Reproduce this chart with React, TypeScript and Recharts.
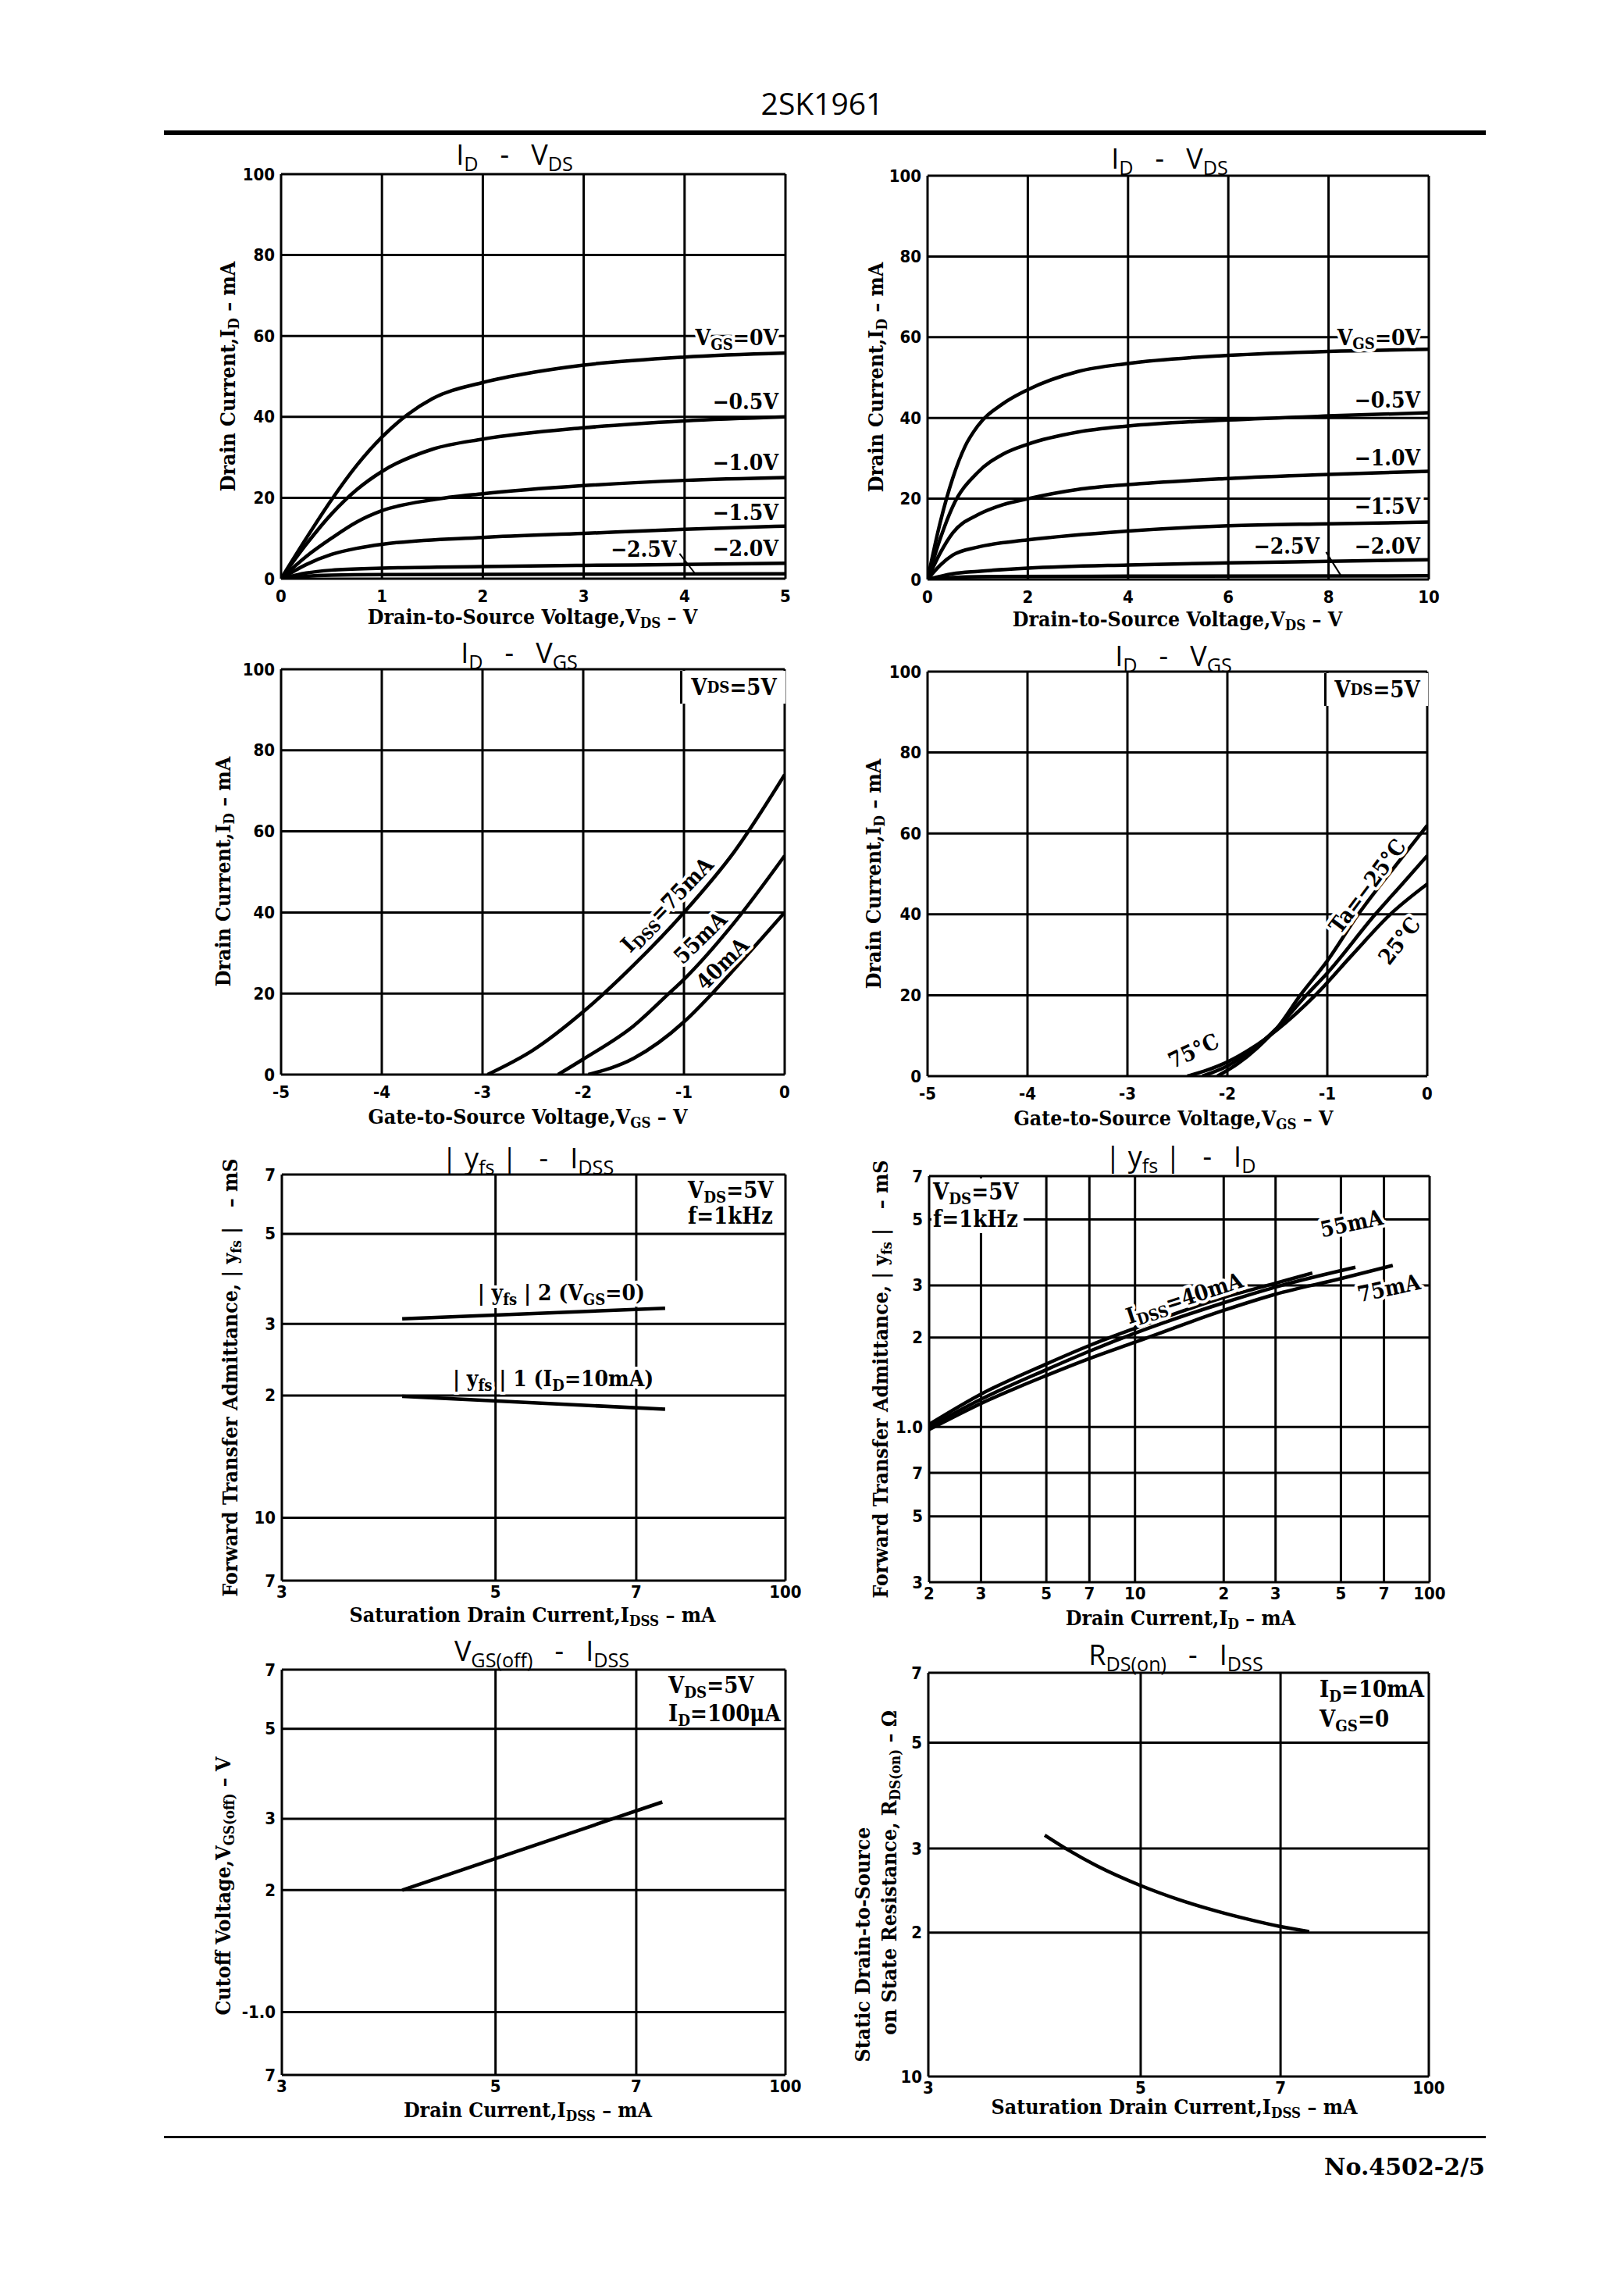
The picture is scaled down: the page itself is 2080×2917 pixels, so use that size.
import React from "react";
import {
  LineChart,
  Line,
  XAxis,
  YAxis,
  CartesianGrid,
  ReferenceDot,
  ReferenceLine,
} from "recharts";

type Pair = [number, number];

// I_D - V_DS, 0..5 V  (V_DS, I_D mA)
const vds5Vgs0: Pair[] = [[0, 0], [0.25, 10], [0.5, 19.5], [0.75, 28], [1, 35], [1.25, 40.5], [1.5, 44.5], [2, 48.5], [2.5, 51], [3, 52.8], [4, 54.8], [5, 55.8]];
const vds5Vgs05: Pair[] = [[0, 0], [0.25, 8.5], [0.5, 16], [0.75, 22], [1, 26.5], [1.5, 32], [2, 34.5], [3, 37.3], [4, 39], [5, 40]];
const vds5Vgs10: Pair[] = [[0, 0], [0.25, 5.5], [0.5, 10], [0.75, 14], [1, 16.8], [1.5, 19.5], [2, 21], [3, 23], [4, 24.3], [5, 25]];
const vds5Vgs15: Pair[] = [[0, 0], [0.25, 3.5], [0.5, 6], [0.75, 7.5], [1, 8.5], [2, 10.2], [3, 11.2], [4, 12.2], [5, 13]];
const vds5Vgs20: Pair[] = [[0, 0], [0.25, 1.4], [0.5, 2.1], [1, 2.6], [2, 3], [3, 3.3], [4, 3.5], [5, 3.8]];
const vds5Vgs25: Pair[] = [[0, 0], [0.25, 0.6], [0.5, 0.85], [1, 1], [3, 1.1], [5, 1.2]];

// I_D - V_DS, 0..10 V
const vds10Vgs0: Pair[] = [[0, 0], [0.25, 14], [0.5, 25], [0.75, 33], [1, 38], [1.5, 43.5], [2, 47], [3, 51.5], [4, 53.5], [6, 55.5], [8, 56.5], [10, 57]];
const vds10Vgs05: Pair[] = [[0, 0], [0.25, 10], [0.5, 18], [1, 26.5], [1.5, 31], [2, 33.5], [3, 36.5], [4, 38], [6, 39.5], [8, 40.5], [10, 41.3]];
const vds10Vgs10: Pair[] = [[0, 0], [0.25, 6.5], [0.5, 11.5], [1, 16], [1.5, 18.5], [2, 20], [3, 22.3], [4, 23.5], [6, 25], [8, 26], [10, 26.8]];
const vds10Vgs15: Pair[] = [[0, 0], [0.25, 3.5], [0.5, 6], [1, 8], [2, 9.8], [4, 12], [6, 13.3], [8, 13.8], [10, 14.2]];
const vds10Vgs20: Pair[] = [[0, 0], [0.5, 1.4], [1, 2], [2, 2.8], [4, 3.6], [6, 4.1], [8, 4.5], [10, 4.9]];
const vds10Vgs25: Pair[] = [[0, 0], [0.5, 0.5], [1, 0.7], [4, 0.8], [10, 0.9]];

// I_D - V_GS by I_DSS
const vgsIdss75: Pair[] = [[-2.95, 0], [-2.5, 6], [-2, 15.5], [-1.5, 27], [-1, 40], [-0.5, 55], [0, 74]];
const vgsIdss55: Pair[] = [[-2.25, 0], [-2, 3.8], [-1.5, 12], [-1.15, 20], [-1, 23.5], [-0.5, 37.5], [0, 54]];
const vgsIdss40: Pair[] = [[-1.95, 0], [-1.5, 4], [-1, 13], [-0.72, 20], [-0.5, 26], [0, 40]];

// I_D - V_GS by Ta
const vgsTaM25: Pair[] = [[-2.1, 0], [-1.9, 3], [-1.7, 7], [-1.5, 12], [-1.27, 20], [-1, 28.5], [-0.69, 40], [-0.35, 51], [0, 62]];
const vgsTa25: Pair[] = [[-2.25, 0], [-2, 2.5], [-1.75, 6.5], [-1.5, 12], [-1.21, 20], [-1, 25.5], [-0.52, 40], [-0.25, 47.5], [0, 54.5]];
const vgsTa75: Pair[] = [[-2.4, 0], [-2.2, 1.5], [-2, 3.5], [-1.75, 7], [-1.5, 11.5], [-1.12, 20], [-0.75, 30], [-0.37, 40], [0, 47.5]];

// |yfs| - IDSS
const yfs2: Pair[] = [[40, 30.9], [75, 32.8]];
const yfs1: Pair[] = [[40, 19.9], [75, 18.5]];

// |yfs| - ID
const yfsId40: Pair[] = [[2, 1.02], [3, 1.29], [5, 1.63], [7, 1.88], [10, 2.15], [20, 2.73], [30, 3.05], [40, 3.3]];
const yfsId55: Pair[] = [[2, 1.0], [3, 1.24], [5, 1.56], [7, 1.8], [10, 2.07], [20, 2.62], [30, 2.96], [56, 3.45]];
const yfsId75: Pair[] = [[2, 0.98], [3, 1.2], [5, 1.49], [7, 1.7], [10, 1.93], [20, 2.47], [30, 2.8], [50, 3.16], [75, 3.5]];

// VGS(off) - IDSS
const vgsOff: Pair[] = [[40, 2.0], [74.5, 3.3]];

// RDS(on) - IDSS
const rdsOn: Pair[] = [[39.7, 32], [42, 29.8], [45, 27.6], [50, 25.1], [55, 23.4], [60, 22.2], [65, 21.3], [70, 20.6], [75, 20.1]];

// ticks
const vds5Ticks = [0, 1, 2, 3, 4, 5];
const vds10Ticks = [0, 2, 4, 6, 8, 10];
const vgsTicks = [-5, -4, -3, -2, -1, 0];
const idTicks = [0, 20, 40, 60, 80, 100];
const idssTicks = [30, 50, 70, 100];
const idssLabels: Record<number, string> = { 30: "3", 50: "5", 70: "7", 100: "100" };
const yfsTicks = [7, 10, 20, 30, 50, 70];
const yfsLabels: Record<number, string> = { 7: "7", 10: "10", 20: "2", 30: "3", 50: "5", 70: "7" };
const idLogTicks = [2, 3, 5, 7, 10, 20, 30, 50, 70, 100];
const idLogLabels: Record<number, string> = { 2: "2", 3: "3", 5: "5", 7: "7", 10: "10", 20: "2", 30: "3", 50: "5", 70: "7", 100: "100" };
const yfsIdTicks = [0.3, 0.5, 0.7, 1, 2, 3, 5, 7];
const yfsIdLabels: Record<number, string> = { 0.3: "3", 0.5: "5", 0.7: "7", 1: "1.0", 2: "2", 3: "3", 5: "5", 7: "7" };
const offTicks = [0.7, 1, 2, 3, 5, 7];
const offLabels: Record<number, string> = { 0.7: "7", 1: "-1.0", 2: "2", 3: "3", 5: "5", 7: "7" };
const rdsTicks = [10, 20, 30, 50, 70];
const rdsLabels: Record<number, string> = { 10: "10", 20: "2", 30: "3", 50: "5", 70: "7" };

const SERIF = "'DejaVu Serif Condensed', 'DejaVu Serif', 'Liberation Serif', serif";
const SANS = "'Open Sans', 'Noto Sans', sans-serif";
const TICK = "'DejaVu Sans Condensed', 'Liberation Sans Narrow', 'Liberation Sans', sans-serif";

const ML = 90;
const MR = 40;
const MT = 30;
const MB = 60;

type Box = { left: number; top: number; w: number; h: number };
type Axis = {
  domain: [number, number];
  ticks: number[];
  log?: boolean;
  labels?: Record<number, string>;
  dy?: number;
};

const pts = (a: Pair[]) => a.map(([x, y]) => ({ x, y }));

function parse(s: string) {
  const out: { t: string; sub: boolean }[] = [];
  const re = /_\{([^}]*)\}/g;
  let last = 0;
  let m: RegExpExecArray | null;
  while ((m = re.exec(s))) {
    if (m.index > last) out.push({ t: s.slice(last, m.index), sub: false });
    out.push({ t: m[1], sub: true });
    last = re.lastIndex;
  }
  if (last < s.length) out.push({ t: s.slice(last), sub: false });
  return out;
}

function Rich({ s }: { s: string }) {
  return (
    <>
      {parse(s).map((p, i) =>
        p.sub ? (
          <sub key={i} style={{ fontSize: "0.7em", verticalAlign: "-0.3em", lineHeight: 0 }}>
            {p.t}
          </sub>
        ) : (
          <span key={i}>{p.t}</span>
        )
      )}
    </>
  );
}

function At({
  x,
  y,
  s,
  rotate,
  style,
}: {
  x: number;
  y: number;
  s: string;
  rotate?: number;
  style?: React.CSSProperties;
}) {
  return (
    <div
      style={{
        position: "absolute",
        left: x,
        top: y,
        transform: `translate(-50%, -50%)${rotate ? ` rotate(${rotate}deg)` : ""}`,
        whiteSpace: "pre",
        lineHeight: 1,
        color: "#000",
        ...style,
      }}
    >
      <Rich s={s} />
    </div>
  );
}

type NoteOpt = { size?: number; anchor?: "start" | "middle" | "end"; rotate?: number; halo?: boolean };

function SvgRich({ x, y, s, size = 28, anchor = "middle", rotate = 0, halo = true }: NoteOpt & { x: number; y: number; s: string }) {
  const d = size * 0.3;
  let down = false;
  return (
    <text
      x={x}
      y={y}
      textAnchor={anchor}
      dominantBaseline="central"
      transform={rotate ? `rotate(${rotate} ${x} ${y})` : undefined}
      fontFamily={SERIF}
      fontWeight="bold"
      fontSize={size}
      fill="#000"
      stroke={halo ? "#fff" : "none"}
      strokeWidth={halo ? 8 : 0}
      strokeLinejoin="round"
      paintOrder="stroke"
      style={{ whiteSpace: "pre" }}
    >
      {parse(s).map((p, i) => {
        let dy = 0;
        if (p.sub && !down) {
          dy = d;
          down = true;
        } else if (!p.sub && down) {
          dy = -d;
          down = false;
        }
        return (
          <tspan key={i} dy={dy} fontSize={p.sub ? size * 0.72 : size}>
            {p.t}
          </tspan>
        );
      })}
    </text>
  );
}

const note = (key: string, x: number, y: number, s: string, o: NoteOpt = {}) => (
  <ReferenceDot
    key={key}
    x={x}
    y={y}
    r={0}
    fill="none"
    stroke="none"
    label={{
      content: (lp: any) => {
        const vb = lp.viewBox ?? lp;
        return <SvgRich x={vb.x} y={vb.y} s={s} {...o} />;
      },
    }}
  />
);

const curve = (key: string, d: Pair[], type: "monotone" | "linear" = "monotone") => (
  <Line
    key={key}
    data={pts(d)}
    dataKey="y"
    type={type}
    stroke="#000"
    strokeWidth={4.5}
    dot={false}
    activeDot={false}
    isAnimationActive={false}
  />
);

const arrow = (key: string, a: Pair, b: Pair) => (
  <ReferenceLine
    key={key}
    segment={[{ x: a[0], y: a[1] }, { x: b[0], y: b[1] }]}
    stroke="#000"
    strokeWidth={2}
  />
);

function fmt(v: number, labels?: Record<number, string>) {
  if (labels && labels[v] !== undefined) return labels[v];
  return String(v);
}

type PanelProps = {
  box: Box;
  x: Axis;
  y: Axis;
  children: React.ReactNode;
};

function Panel({ box, x, y, children }: PanelProps) {
  return (
    <div style={{ position: "absolute", left: box.left - ML, top: box.top - MT }}>
      <LineChart
        width={box.w + ML + MR}
        height={box.h + MT + MB}
        margin={{ top: MT, right: MR, bottom: 0, left: 0 }}
      >
        <CartesianGrid stroke="#000" strokeWidth={3} />
        <XAxis
          dataKey="x"
          type="number"
          scale={x.log ? "log" : "linear"}
          domain={x.domain}
          ticks={x.ticks}
          interval={0}
          allowDataOverflow
          height={MB}
          axisLine={false}
          tickLine={false}
          tickSize={0}
          tickMargin={0}
          tick={(t: any) => (
            <text
              x={t.x}
              y={t.y + (x.dy ?? 22)}
              textAnchor="middle"
              dominantBaseline="central"
              fontFamily={TICK}
              fontWeight="bold"
              fontSize={22}
              fill="#000"
            >
              {fmt(t.payload.value, x.labels)}
            </text>
          )}
        />
        <YAxis
          dataKey="y"
          type="number"
          scale={y.log ? "log" : "linear"}
          domain={y.domain}
          ticks={y.ticks}
          interval={0}
          allowDataOverflow
          width={ML}
          axisLine={false}
          tickLine={false}
          tickSize={0}
          tickMargin={0}
          tick={(t: any) => (
            <text
              x={t.x - 8}
              y={t.y}
              textAnchor="end"
              dominantBaseline="central"
              fontFamily={TICK}
              fontWeight="bold"
              fontSize={22}
              fill="#000"
            >
              {fmt(t.payload.value, y.labels)}
            </text>
          )}
        />
        {children}
      </LineChart>
    </div>
  );
}

const B1: Box = { left: 360, top: 223, w: 646, h: 518 };
const B2: Box = { left: 1188, top: 225, w: 642, h: 517 };
const B3: Box = { left: 360, top: 857, w: 645, h: 519 };
const B4: Box = { left: 1188, top: 860, w: 640, h: 518 };
const B5: Box = { left: 361, top: 1504, w: 645, h: 520 };
const B6: Box = { left: 1190, top: 1506, w: 641, h: 520 };
const B7: Box = { left: 361, top: 2138, w: 645, h: 519 };
const B8: Box = { left: 1189, top: 2142, w: 641, h: 517 };

const titleStyle: React.CSSProperties = { fontFamily: SANS, fontSize: 36 };
const labelStyle: React.CSSProperties = { fontFamily: SERIF, fontSize: 26.5, fontWeight: "bold" };
const condStyle: React.CSSProperties = { fontFamily: SERIF, fontSize: 29, fontWeight: "bold" };

function CondBox({ left, top, w, h, s }: { left: number; top: number; w: number; h: number; s: string }) {
  return (
    <div
      style={{
        position: "absolute",
        left,
        top,
        width: w,
        height: h,
        borderLeft: "3px solid #000",
        background: "#fff",
        display: "flex",
        alignItems: "center",
        justifyContent: "center",
        ...condStyle,
      }}
    >
      <Rich s={s} />
    </div>
  );
}

function CondLines({ left, top, lines, gap, bg }: { left: number; top: number; lines: string[]; gap: number; bg?: boolean }) {
  return (
    <div
      style={{
        position: "absolute",
        left,
        top,
        lineHeight: `${gap}px`,
        background: bg ? "#fff" : "transparent",
        padding: bg ? "0 6px 0 2px" : 0,
        whiteSpace: "pre",
        ...condStyle,
      }}
    >
      {lines.map((l, i) => (
        <div key={i}>
          <Rich s={l} />
        </div>
      ))}
    </div>
  );
}

export default function App() {
  return (
    <div
      style={{
        position: "absolute",
        left: 0,
        top: 0,
        width: 2080,
        height: 2917,
        background: "#fff",
        overflow: "hidden",
      }}
    >
      <At x={1053} y={131} s="2SK1961" style={{ fontFamily: SANS, fontSize: 39 }} />
      <div style={{ position: "absolute", left: 210, top: 167, width: 1693, height: 6, background: "#000" }} />

      {/* I_D - V_DS (5 V) */}
      <Panel box={B1} x={{ domain: [0, 5], ticks: vds5Ticks }} y={{ domain: [0, 100], ticks: idTicks }}>
        {curve("a0", vds5Vgs0)}
        {curve("a1", vds5Vgs05)}
        {curve("a2", vds5Vgs10)}
        {curve("a3", vds5Vgs15)}
        {curve("a4", vds5Vgs20)}
        {curve("a5", vds5Vgs25)}
        {note("n0", 4.93, 59.6, "V_{GS}=0V", { anchor: "end" })}
        {note("n1", 4.93, 43.8, "−0.5V", { anchor: "end" })}
        {note("n2", 4.93, 28.8, "−1.0V", { anchor: "end" })}
        {note("n3", 4.93, 16.4, "−1.5V", { anchor: "end" })}
        {note("n4", 4.93, 7.5, "−2.0V", { anchor: "end" })}
        {note("n5", 3.92, 7.3, "−2.5V", { anchor: "end" })}
        {arrow("ar", [3.95, 6.2], [4.1, 1.4])}
      </Panel>
      <At x={659} y={198} s="I_{D}   -   V_{DS}" style={titleStyle} />
      <At x={682} y={790} s="Drain-to-Source Voltage,V_{DS} – V" style={labelStyle} />
      <At x={292} y={482} s="Drain Current,I_{D} – mA" rotate={-90} style={labelStyle} />

      {/* I_D - V_DS (10 V) */}
      <Panel box={B2} x={{ domain: [0, 10], ticks: vds10Ticks }} y={{ domain: [0, 100], ticks: idTicks }}>
        {curve("b0", vds10Vgs0)}
        {curve("b1", vds10Vgs05)}
        {curve("b2", vds10Vgs10)}
        {curve("b3", vds10Vgs15)}
        {curve("b4", vds10Vgs20)}
        {curve("b5", vds10Vgs25)}
        {note("m0", 9.83, 60, "V_{GS}=0V", { anchor: "end" })}
        {note("m1", 9.83, 44.4, "−0.5V", { anchor: "end" })}
        {note("m2", 9.83, 30.2, "−1.0V", { anchor: "end" })}
        {note("m3", 9.83, 18.2, "−1.5V", { anchor: "end" })}
        {note("m4", 9.83, 8.4, "−2.0V", { anchor: "end" })}
        {note("m5", 7.82, 8.4, "−2.5V", { anchor: "end" })}
        {arrow("br", [7.95, 6.8], [8.25, 0.9])}
      </Panel>
      <At x={1498} y={203} s="I_{D}   -   V_{DS}" style={titleStyle} />
      <At x={1508} y={793} s="Drain-to-Source Voltage,V_{DS} – V" style={labelStyle} />
      <At x={1122} y={483} s="Drain Current,I_{D} – mA" rotate={-90} style={labelStyle} />

      {/* I_D - V_GS by IDSS */}
      <Panel box={B3} x={{ domain: [-5, 0], ticks: vgsTicks }} y={{ domain: [0, 100], ticks: idTicks }}>
        {curve("c0", vgsIdss75)}
        {curve("c1", vgsIdss55)}
        {curve("c2", vgsIdss40)}
        {note("c75", -1.17, 42, "I_{DSS}=75mA", { rotate: -46 })}
        {note("c55", -0.84, 33.8, "55mA", { rotate: -44 })}
        {note("c40", -0.62, 27.4, "40mA", { rotate: -45 })}
      </Panel>
      <At x={665} y={836} s="I_{D}   -   V_{GS}" style={titleStyle} />
      <At x={676} y={1430} s="Gate-to-Source Voltage,V_{GS} – V" style={labelStyle} />
      <At x={286} y={1116} s="Drain Current,I_{D} – mA" rotate={-90} style={labelStyle} />
      <CondBox left={B3.left + B3.w - 134} top={B3.top + 2} w={132} h={42} s="V_{DS}=5V" />

      {/* I_D - V_GS by Ta */}
      <Panel box={B4} x={{ domain: [-5, 0], ticks: vgsTicks }} y={{ domain: [0, 100], ticks: idTicks }}>
        {curve("d0", vgsTaM25)}
        {curve("d1", vgsTa25)}
        {curve("d2", vgsTa75)}
        {note("dm25", -0.6, 47, "Ta=−25°C", { rotate: -53 })}
        {note("d25", -0.28, 33.5, "25°C", { rotate: -52 })}
        {note("d75", -2.34, 6.3, "75°C", { rotate: -25 })}
      </Panel>
      <At x={1503} y={840} s="I_{D}   -   V_{GS}" style={titleStyle} />
      <At x={1503} y={1432} s="Gate-to-Source Voltage,V_{GS} – V" style={labelStyle} />
      <At x={1119} y={1119} s="Drain Current,I_{D} – mA" rotate={-90} style={labelStyle} />
      <CondBox left={B4.left + B4.w - 132} top={B4.top + 2} w={130} h={42} s="V_{DS}=5V" />

      {/* |yfs| - IDSS */}
      <Panel
        box={B5}
        x={{ domain: [30, 100], ticks: idssTicks, log: true, labels: idssLabels, dy: 14 }}
        y={{ domain: [7, 70], ticks: yfsTicks, log: true, labels: yfsLabels }}
      >
        {curve("e0", yfs2, "linear")}
        {curve("e1", yfs1, "linear")}
        {note("e2", 58.5, 35.8, "| y_{fs} | 2 (V_{GS}=0)")}
        {note("e3", 57.4, 22, "| y_{fs} | 1 (I_{D}=10mA)")}
      </Panel>
      <At x={676} y={1483} s="| y_{fs} |   -   I_{DSS}" style={titleStyle} />
      <At x={682} y={2068} s="Saturation Drain Current,I_{DSS} – mA" style={labelStyle} />
      <At x={295} y={1764} s="Forward Transfer Admittance, | y_{fs} |   – mS" rotate={-90} style={labelStyle} />
      <CondLines left={B5.left + B5.w - 125} top={B5.top + 4} lines={["V_{DS}=5V", "f=1kHz"]} gap={33} />

      {/* |yfs| - ID */}
      <Panel
        box={B6}
        x={{ domain: [2, 100], ticks: idLogTicks, log: true, labels: idLogLabels, dy: 14 }}
        y={{ domain: [0.3, 7], ticks: yfsIdTicks, log: true, labels: yfsIdLabels }}
      >
        {curve("f0", yfsId40)}
        {curve("f1", yfsId55)}
        {curve("f2", yfsId75)}
        {note("f40", 14.7, 2.72, "I_{DSS}=40mA", { rotate: -18 })}
        {note("f55", 54.3, 4.86, "55mA", { rotate: -12 })}
        {note("f75", 72.7, 2.94, "75mA", { rotate: -12 })}
      </Panel>
      <At x={1512} y={1481} s="| y_{fs} |   -   I_{D}" style={titleStyle} />
      <At x={1512} y={2072} s="Drain Current,I_{D} – mA" style={labelStyle} />
      <At x={1128} y={1766} s="Forward Transfer Admittance, | y_{fs} |   – mS" rotate={-90} style={labelStyle} />
      <CondLines left={B6.left + 3} top={B6.top + 3} lines={["V_{DS}=5V", "f=1kHz"]} gap={35} bg />

      {/* VGS(off) - IDSS */}
      <Panel
        box={B7}
        x={{ domain: [30, 100], ticks: idssTicks, log: true, labels: idssLabels, dy: 14 }}
        y={{ domain: [0.7, 7], ticks: offTicks, log: true, labels: offLabels }}
      >
        {curve("g0", vgsOff, "linear")}
      </Panel>
      <At x={694} y={2114} s="V_{GS(off)}   -   I_{DSS}" style={titleStyle} />
      <At x={676} y={2702} s="Drain Current,I_{DSS} – mA" style={labelStyle} />
      <At x={286} y={2415} s="Cutoff Voltage,V_{GS(off)} – V" rotate={-90} style={labelStyle} />
      <CondLines left={B7.left + B7.w - 150} top={B7.top + 2} lines={["V_{DS}=5V", "I_{D}=100μA"]} gap={36} />

      {/* RDS(on) - IDSS */}
      <Panel
        box={B8}
        x={{ domain: [30, 100], ticks: idssTicks, log: true, labels: idssLabels, dy: 14 }}
        y={{ domain: [10, 70], ticks: rdsTicks, log: true, labels: rdsLabels }}
      >
        {curve("h0", rdsOn)}
      </Panel>
      <At x={1506} y={2119} s="R_{DS(on)}   -   I_{DSS}" style={titleStyle} />
      <At x={1504} y={2698} s="Saturation Drain Current,I_{DSS} – mA" style={labelStyle} />
      <At x={1105} y={2490} s="Static Drain-to-Source" rotate={-90} style={labelStyle} />
      <At x={1139} y={2398} s="on State Resistance, R_{DS(on)} – Ω" rotate={-90} style={labelStyle} />
      <CondLines left={B8.left + B8.w - 140} top={B8.top + 2} lines={["I_{D}=10mA", "V_{GS}=0"]} gap={38} />

      <div style={{ position: "absolute", left: 210, top: 2735, width: 1693, height: 3, background: "#000" }} />
      <div
        style={{
          position: "absolute",
          right: 2080 - 1902,
          top: 2757,
          fontFamily: "'DejaVu Serif', 'Liberation Serif', serif",
          fontSize: 30,
          fontWeight: 600,
          whiteSpace: "pre",
        }}
      >
        No.4502-2/5
      </div>
    </div>
  );
}
